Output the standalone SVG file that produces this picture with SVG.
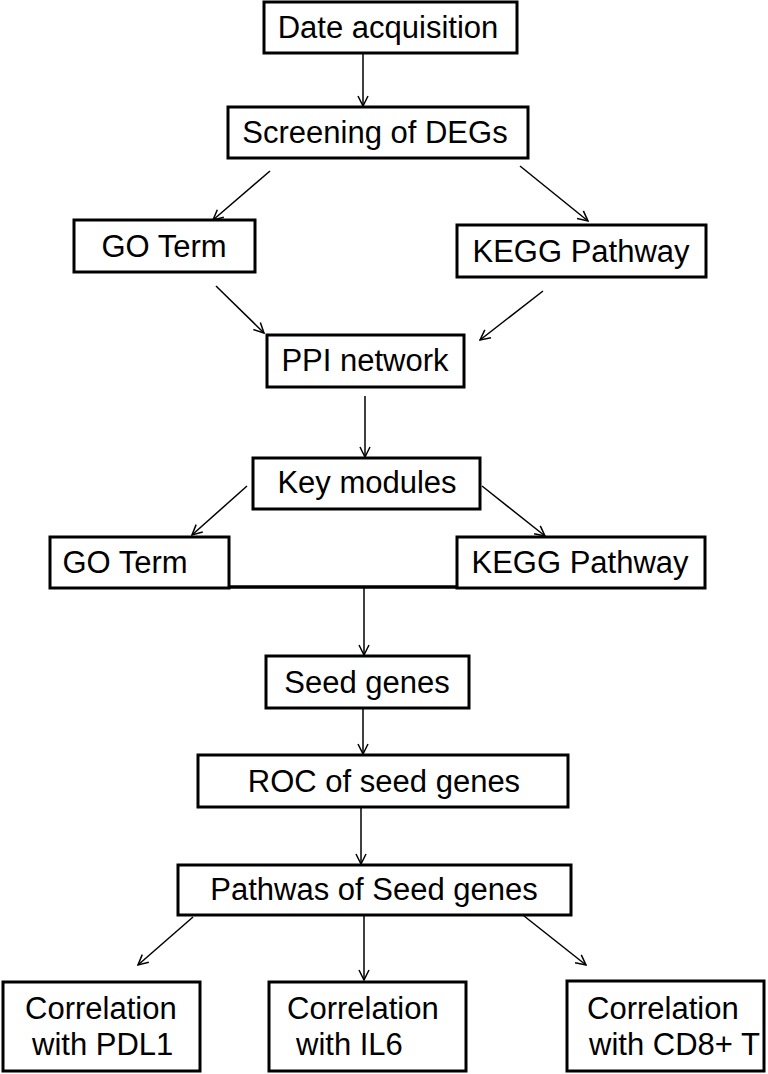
<svg xmlns="http://www.w3.org/2000/svg" width="768" height="1074" viewBox="0 0 768 1074">
<defs>
<style>
.box{fill:#fff;stroke:#000;stroke-width:3}
.t{font-family:"Liberation Sans",Arial,sans-serif;font-size:31px;fill:#000}
.m{text-anchor:middle}
.c{stroke:#000;stroke-width:1.5;fill:none}
</style>
<marker id="ah" viewBox="0 0 12 12" refX="11" refY="6" markerWidth="12" markerHeight="12" markerUnits="userSpaceOnUse" orient="auto">
<path d="M1,1 L11,6 L1,11" fill="none" stroke="#000" stroke-width="1.5"/>
</marker>
</defs>
<rect width="768" height="1074" fill="#fff"/>
<g id="connectors">
<line class="c" x1="363" y1="53" x2="363" y2="106" marker-end="url(#ah)"/>
<line class="c" x1="270" y1="171" x2="213" y2="220" marker-end="url(#ah)"/>
<line class="c" x1="520" y1="166" x2="588" y2="221" marker-end="url(#ah)"/>
<line class="c" x1="216" y1="286" x2="264" y2="333" marker-end="url(#ah)"/>
<line class="c" x1="543" y1="291" x2="480" y2="340" marker-end="url(#ah)"/>
<line class="c" x1="365" y1="396" x2="365" y2="457" marker-end="url(#ah)"/>
<line class="c" x1="247" y1="486" x2="192" y2="535" marker-end="url(#ah)"/>
<line class="c" x1="482" y1="486" x2="545" y2="536" marker-end="url(#ah)"/>
<line x1="78" y1="587" x2="457" y2="587" stroke="#000" stroke-width="3.5"/>
<line class="c" x1="364" y1="588" x2="364" y2="655" marker-end="url(#ah)"/>
<line class="c" x1="363" y1="708" x2="363" y2="754" marker-end="url(#ah)"/>
<line class="c" x1="361" y1="807" x2="361" y2="864" marker-end="url(#ah)"/>
<line class="c" x1="193" y1="917" x2="138" y2="965" marker-end="url(#ah)"/>
<line class="c" x1="364" y1="916" x2="364" y2="980" marker-end="url(#ah)"/>
<line class="c" x1="519" y1="912" x2="586" y2="965" marker-end="url(#ah)"/>
</g>
<g id="n1"><rect class="box" x="264" y="2" width="253" height="51"/><text class="t m" x="388" y="38">Date acquisition</text></g>
<g id="n2"><rect class="box" x="228" y="107" width="300" height="51"/><text class="t m" x="375" y="143">Screening of DEGs</text></g>
<g id="n3"><rect class="box" x="74" y="220" width="181" height="52"/><text class="t m" x="164" y="257">GO Term</text></g>
<g id="n4"><rect class="box" x="457" y="225" width="249" height="52"/><text class="t m" x="581" y="262">KEGG Pathway</text></g>
<g id="n5"><rect class="box" x="267" y="335" width="197" height="52"/><text class="t m" x="365" y="371">PPI network</text></g>
<g id="n6"><rect class="box" x="253" y="458" width="227" height="51"/><text class="t m" x="367" y="493">Key modules</text></g>
<g id="n7"><rect class="box" x="50" y="537" width="179" height="51"/><text class="t m" x="125" y="573">GO Term</text></g>
<g id="n8"><rect class="box" x="457" y="537" width="248" height="51"/><text class="t m" x="580" y="573">KEGG Pathway</text></g>
<g id="n9"><rect class="box" x="266" y="656" width="203" height="52"/><text class="t m" x="367" y="693">Seed genes</text></g>
<g id="n10"><rect class="box" x="198" y="755" width="370" height="52"/><text class="t m" x="384" y="792">ROC of seed genes</text></g>
<g id="n11"><rect class="box" x="178" y="865" width="393" height="50"/><text class="t m" x="374" y="900">Pathwas of Seed genes</text></g>
<g id="n12"><rect class="box" x="3" y="982" width="197" height="89"/><text class="t" x="25" y="1019">Correlation</text><text class="t" x="32" y="1055">with PDL1</text></g>
<g id="n13"><rect class="box" x="269" y="982" width="197" height="89"/><text class="t" x="287" y="1019">Correlation</text><text class="t" x="296" y="1055">with IL6</text></g>
<g id="n14"><rect class="box" x="567" y="981" width="197" height="90"/><text class="t" x="587" y="1019">Correlation</text><text class="t" x="589" y="1055">with CD8+ T</text></g>
</svg>
